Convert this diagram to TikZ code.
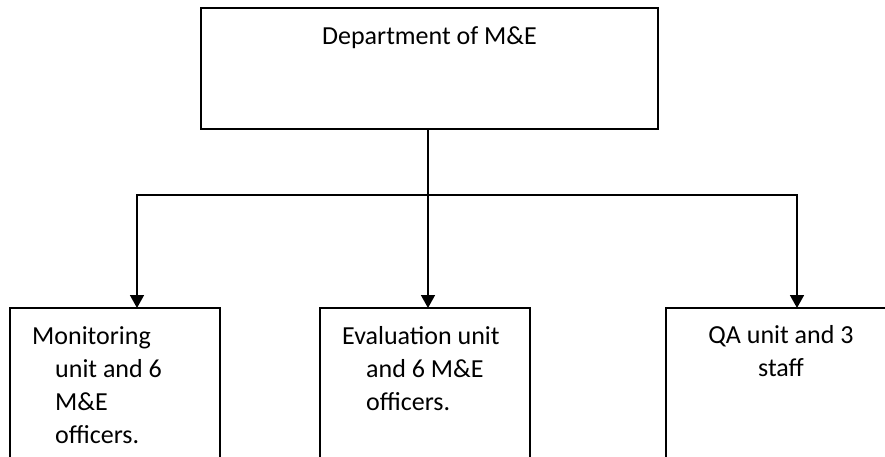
\documentclass[tikz,border=0pt]{standalone}
\usepackage{fontspec}
\setmainfont{Carlito}
\usetikzlibrary{arrows.meta}
\begin{document}
\begin{tikzpicture}[x=1pt,y=1pt,
  box/.style={draw=black,line width=1.6pt,rectangle,inner sep=0pt,outer sep=0pt,anchor=north west},
  lbl/.style={font=\fontsize{26}{33}\selectfont,inner sep=0pt,align=left},
  conn/.style={line width=1.6pt},
  arr/.style={line width=1.6pt,-{Triangle[width=14pt,length=13pt]}}]
\useasboundingbox (0,0) rectangle (885,-456);
\clip (0,0) rectangle (885,-456);
% boxes
\node[box,minimum width=457pt,minimum height=121pt] (top) at (201,-8) {};
\node[box,minimum width=210pt,minimum height=180pt] (mon) at (10,-308) {};
\node[box,minimum width=210pt,minimum height=180pt] (eva) at (320,-308) {};
\node[box,minimum width=240pt,minimum height=180pt] (qa) at (666,-308) {};
% texts (base anchor = baseline of the last line)
\node[lbl,anchor=base] (toptext) at (429.5,-44) {Department of M\&E};
\node[lbl,anchor=base west] (montext) at (32,-443) {Monitoring\\\hspace*{23pt}unit and 6\\\hspace*{23pt}M\&E\\\hspace*{23pt}officers.};
\node[lbl,anchor=base west] (evatext) at (342,-410) {Evaluation unit\\\hspace*{24pt}and 6 M\&E\\\hspace*{24pt}officers.};
\node[lbl,anchor=base,align=center] (qatext) at (781,-376) {QA unit and 3\\staff};
% connectors
\coordinate (jm) at (428,-195);
\coordinate (jl) at (137,-195);
\coordinate (jr) at (797,-195);
\draw[arr] (top.south -| jm) -- (jm |- eva.north);
\draw[arr] (jm) -- (jl) -- (jl |- mon.north);
\draw[arr] (jm) -- (jr) -- (jr |- qa.north);
\end{tikzpicture}
\end{document}
